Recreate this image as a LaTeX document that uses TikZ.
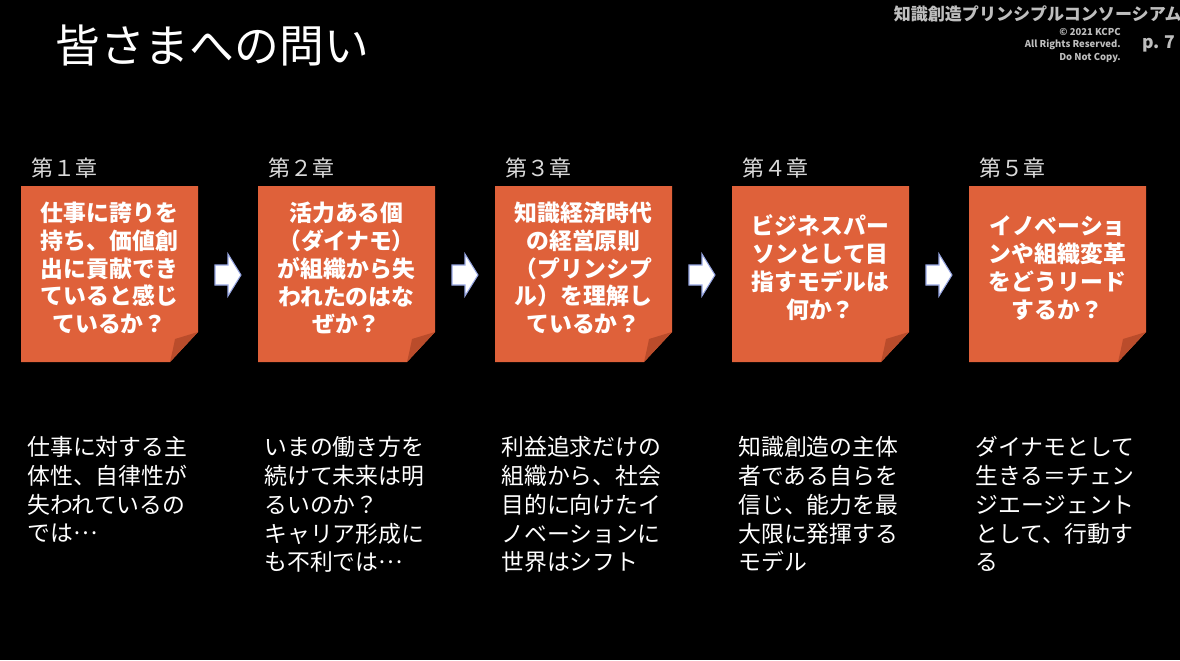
\documentclass[tikz,border=0pt]{standalone}
\usepackage{fontspec}
\setmainfont{Noto Sans CJK JP}
\usepackage{tikz}
\usetikzlibrary{calc,positioning}
\definecolor{noteorange}{RGB}{223,97,58}
\definecolor{notefold}{RGB}{186,76,43}
\definecolor{headgray}{RGB}{190,190,190}
\definecolor{glowblue}{RGB}{150,165,225}
\newcommand{\midellipsis}{\raisebox{0.33em}{…}}

\begin{document}
\begin{tikzpicture}[x=0.02cm,y=-0.02cm,
  chaplabel/.style={anchor=west,inner sep=0pt,text=white!85!black,font=\fontsize{12.5}{15}\selectfont},
  notetext/.style={inner sep=0pt,text=white,align=center,font=\bfseries\fontsize{13}{15.9}\selectfont},
  desctext/.style={anchor=north west,inner sep=0pt,text=white,align=left,font=\fontsize{13}{16.4}\selectfont},
  blockarrow/.style={fill=white,draw=glowblue,line width=0.6pt,line join=miter}]
  \useasboundingbox (0,0) rectangle (1180,660);
  \fill[black] (0,0) rectangle (1180,660);
  % title and header
  \node[anchor=west,inner sep=0pt,text=white,font=\fontsize{25.5}{30}\selectfont] (title) at (55,45) {皆さまへの問い};
  \node[anchor=east,inner sep=0pt,text=headgray,font=\bfseries\fontsize{9.7}{11}\selectfont] (consortium) at (1182,14) {知識創造プリンシプルコンソーシアム};
  \node[anchor=north east,inner sep=0pt,text=headgray,align=right,font=\bfseries\fontsize{5.4}{7}\selectfont] (rights) at (1121,28) {© 2021 KCPC\\All Rights Reserved.\\Do Not Copy.};
  \node[anchor=east,inner sep=0pt,text=headgray,font=\bfseries\fontsize{10}{12}\selectfont] (page) at (1176,44) {p. 7};
  % sticky notes with folded corner, one per chapter
  \foreach \i/\num/\qtext/\dtext in {
    1/１/{仕事に誇りを\\持ち、価値創\\出に貢献でき\\ていると感じ\\ているか？}/{仕事に対する主\\体性、自律性が\\失われているの\\では\midellipsis},
    2/２/{活力ある個\\（ダイナモ）\\が組織から失\\われたのはな\\ぜか？}/{いまの働き方を\\続けて未来は明\\るいのか？\\キャリア形成に\\も不利では\midellipsis},
    3/３/{知識経済時代\\の経営原則\\（プリンシプ\\ル）を理解し\\ているか？}/{利益追求だけの\\組織から、社会\\目的に向けたイ\\ノベーションに\\世界はシフト},
    4/４/{ビジネスパー\\ソンとして目\\指すモデルは\\何か？}/{知識創造の主体\\者である自らを\\信じ、能力を最\\大限に発揮する\\モデル},
    5/５/{イノベーショ\\ンや組織変革\\をどうリード\\するか？}/{ダイナモとして\\生きる＝チェン\\ジエージェント\\として、行動す\\る}} {
    \coordinate (corner\i) at ({21+237*(\i-1)},186);
    \fill[noteorange] (corner\i) -- ++(177,0) -- ++(0,146) -- ++(-28,30) -- ++(-149,0) -- cycle;
    \fill[notefold] ($(corner\i)+(177,146)$) .. controls ($(corner\i)+(166,149)$) .. ($(corner\i)+(154,153)$)
      .. controls ($(corner\i)+(152,163)$) .. ($(corner\i)+(149,176)$) -- cycle;
    \node[chaplabel] (chap\i) at ($(corner\i)+(10,-18)$) {第\num 章};
    \node[notetext] (note\i) at ($(corner\i)+(88.5,82)$) {\qtext};
    \node[desctext] (desc\i) at ($(corner\i)+(6,250)$) {\dtext};
  }
  % block arrows between the notes
  \foreach \i in {1,...,4} {
    \coordinate (arrow\i) at ({215+237*(\i-1)},275);
    \draw[blockarrow] ($(arrow\i)+(0,-10)$) -- ++(13,0) -- ++(0,-11) -- ++(13,21) -- ++(-13,21) -- ++(0,-11) -- ++(-13,0) -- cycle;
  }
\end{tikzpicture}
\end{document}
